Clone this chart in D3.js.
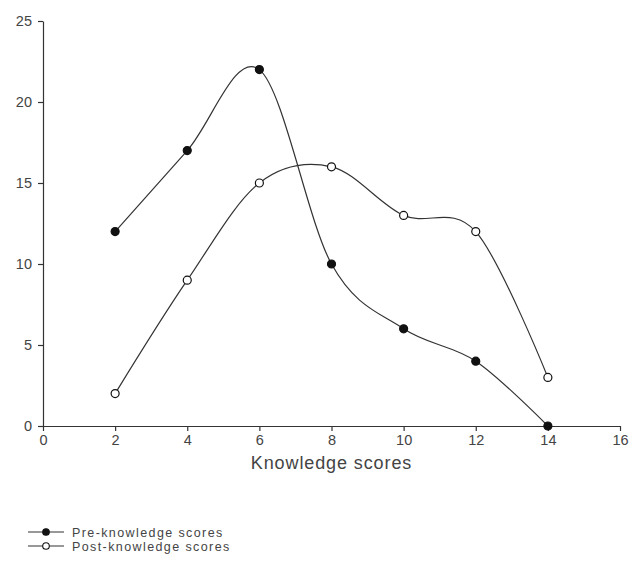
<!DOCTYPE html>
<html>
<head>
<meta charset="utf-8">
<script src="https://cdn.jsdelivr.net/npm/d3@7"></script>
<style>
  html, body { margin: 0; padding: 0; background: #fff; }
  svg { display: block; font-family: Arial, "Liberation Sans", sans-serif; }
</style>
</head>
<body>
<svg id="chart" width="634" height="562"></svg>
<script>
// Knowledge score levels on the x axis
const scores = [2, 4, 6, 8, 10, 12, 14];
// Number of participants at each score
const preValues = [12, 17, 22, 10, 6, 4, 0];
const postValues = [2, 9, 15, 16, 13, 12, 3];
const xTicks = [0, 2, 4, 6, 8, 10, 12, 14, 16];
const yTicks = [0, 5, 10, 15, 20, 25];
const seriesNames = ["Pre-knowledge scores", "Post-knowledge scores"];

const svg = d3.select("#chart");
const plotLeft = 43, plotRight = 620, plotTop = 21, plotBottom = 426;
const x = d3.scaleLinear().domain([0, 16]).range([plotLeft, plotRight]);
const y = d3.scaleLinear().domain([0, 25]).range([plotBottom, plotTop]);
const ink = "#333";
const textInk = "#444";

// Axes
const xAxis = svg.append("g").attr("transform", `translate(0,${plotBottom})`)
  .call(d3.axisBottom(x).tickValues(xTicks).tickSize(5).tickSizeOuter(0).tickPadding(4));
const yAxis = svg.append("g").attr("transform", `translate(${plotLeft},0)`)
  .call(d3.axisLeft(y).tickValues(yTicks).tickSize(5).tickSizeOuter(0).tickPadding(6));
[xAxis, yAxis].forEach(g => {
  g.selectAll("path, line").attr("stroke", ink).attr("stroke-width", 1.2);
  g.selectAll("text").attr("fill", textInk).style("font-size", "14.5px");
});

svg.append("text")
  .attr("x", (plotLeft + plotRight) / 2).attr("y", 469)
  .attr("text-anchor", "middle").attr("fill", textInk)
  .style("font-size", "18px").style("letter-spacing", "0.9px")
  .text("Knowledge scores");

// Smoothed series
const line = d3.line().curve(d3.curveCatmullRom.alpha(0))
  .x(d => x(d[0])).y(d => y(d[1]));
const series = [
  { values: preValues, fill: "#111" },
  { values: postValues, fill: "#fff" }
];
series.forEach(s => {
  const pts = scores.map((v, i) => [v, s.values[i]]);
  svg.append("path").datum(pts)
    .attr("d", line).attr("fill", "none")
    .attr("stroke", ink).attr("stroke-width", 1.2);
  svg.append("g").selectAll("circle").data(pts).join("circle")
    .attr("cx", d => x(d[0])).attr("cy", d => y(d[1])).attr("r", 4)
    .attr("fill", s.fill).attr("stroke", "#111").attr("stroke-width", 1.2);
});

// Legend
const legend = svg.append("g");
seriesNames.forEach((name, i) => {
  const ly = 532 + i * 14;
  legend.append("line").attr("x1", 28).attr("x2", 64).attr("y1", ly).attr("y2", ly)
    .attr("stroke", ink).attr("stroke-width", 1.2);
  legend.append("circle").attr("cx", 46).attr("cy", ly).attr("r", 3.3)
    .attr("fill", series[i].fill).attr("stroke", "#111").attr("stroke-width", 1.1);
  legend.append("text").attr("x", 72).attr("y", ly + 4.5)
    .attr("fill", textInk).style("font-size", "12.5px").style("letter-spacing", "1.4px")
    .text(name);
});
</script>
</body>
</html>
